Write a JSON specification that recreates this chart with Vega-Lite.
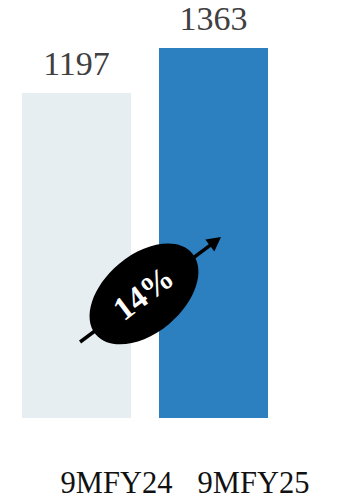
{
  "$schema": "https://vega.github.io/schema/vega-lite/v6.json",
  "width": 290,
  "height": 418,
  "autosize": {"type": "none"},
  "padding": {"left": 0, "top": 0, "right": 55, "bottom": 81},
  "background": "white",
  "config": {"view": {"stroke": null}},
  "datasets": {
    "bars": [
      {"period": "9MFY24", "value": 1197},
      {"period": "9MFY25", "value": 1363}
    ],
    "growth": [
      {"label": "14%", "xs": 0.026, "ys": 280, "xe": 1.014, "ye": 651, "xc": 0.493, "yc": 457}
    ]
  },
  "layer": [
    {
      "data": {"name": "bars"},
      "layer": [
        {
          "mark": {"type": "bar"},
          "encoding": {
            "x": {
              "field": "period", "type": "nominal",
              "scale": {"paddingInner": 0.2044, "paddingOuter": 0.1606},
              "axis": {
                "title": null, "domain": false, "ticks": false, "tickSize": 0,
                "labelAngle": 0, "labelFont": "Liberation Serif", "labelFontSize": 30.5,
                "labelColor": "#111111", "labelOffset": 40, "labelBaseline": "alphabetic",
                "labelPadding": 74
              }
            },
            "y": {
              "field": "value", "type": "quantitative",
              "scale": {"domain": [0, 1540], "nice": false, "zero": true},
              "axis": null
            },
            "color": {
              "field": "period", "type": "nominal",
              "scale": {"domain": ["9MFY24", "9MFY25"], "range": ["#E7EEF1", "#2C80C0"]},
              "legend": null
            }
          }
        },
        {
          "mark": {"type": "text", "font": "Liberation Serif", "fontSize": 34, "color": "#404040", "baseline": "alphabetic", "dy": -18},
          "encoding": {
            "x": {"field": "period", "type": "nominal"},
            "y": {"field": "value", "type": "quantitative"},
            "text": {"field": "value", "type": "quantitative", "format": "d"}
          }
        }
      ]
    },
    {
      "data": {"name": "growth"},
      "layer": [
        {
          "mark": {"type": "rule", "color": "black", "strokeWidth": 3.5},
          "encoding": {
            "x": {"field": "xs", "type": "quantitative", "scale": {"domain": [-0.5584, 1.5584], "nice": false, "zero": false}, "axis": null},
            "x2": {"field": "xe"},
            "y": {"field": "ys", "type": "quantitative"},
            "y2": {"field": "ye"}
          }
        },
        {
          "mark": {"type": "point", "filled": true, "color": "black", "opacity": 1, "strokeWidth": 0,
                   "shape": "M -1 0 A 1 0.62 0 1 1 1 0 A 1 0.62 0 1 1 -1 0 Z", "size": 15876, "angle": -40},
          "encoding": {
            "x": {"field": "xc", "type": "quantitative"},
            "y": {"field": "yc", "type": "quantitative"}
          }
        },
        {
          "mark": {"type": "point", "filled": true, "color": "black", "opacity": 1, "strokeWidth": 0,
                   "shape": "M 1 0 L -1 -1.07 L -1 1.07 Z", "size": 196, "angle": -37},
          "encoding": {
            "x": {"field": "xe", "type": "quantitative"},
            "y": {"field": "ye", "type": "quantitative"}
          }
        },
        {
          "mark": {"type": "text", "font": "Liberation Serif", "fontWeight": "bold", "fontSize": 33, "color": "white", "angle": -37, "align": "center", "baseline": "middle"},
          "encoding": {
            "x": {"field": "xc", "type": "quantitative"},
            "y": {"field": "yc", "type": "quantitative"},
            "text": {"field": "label"}
          }
        }
      ]
    }
  ],
  "resolve": {"scale": {"x": "independent", "color": "independent"}, "axis": {"x": "independent"}}
}
